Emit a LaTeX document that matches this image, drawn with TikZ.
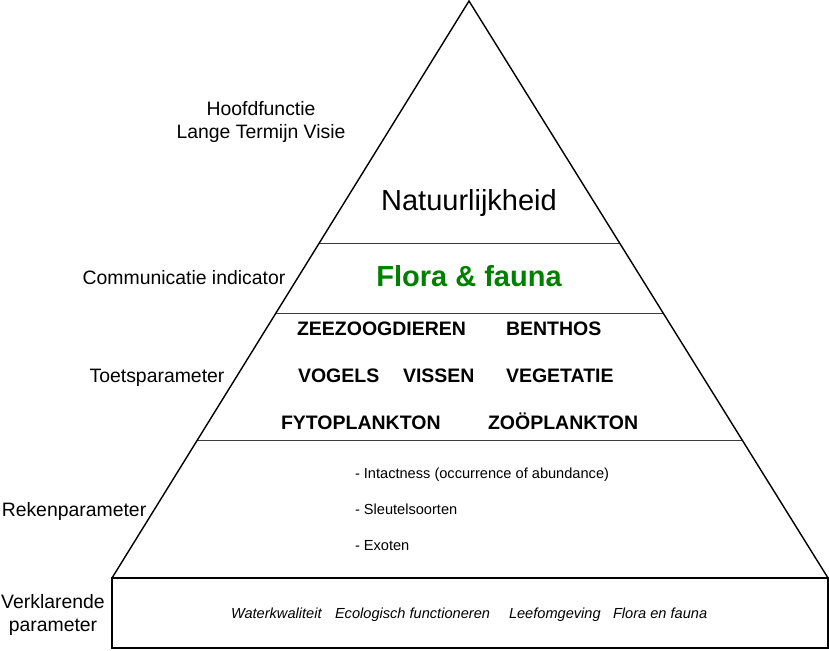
\documentclass[tikz,border=0pt]{standalone}
\usepackage{fontspec}
\setmainfont{Liberation Sans}
\usetikzlibrary{calc}
\definecolor{labgreen}{RGB}{0,128,0}
\definecolor{divgray}{RGB}{60,60,60}
\begin{document}
\begin{tikzpicture}[x=1pt,y=-1pt,
  every node/.style={inner sep=0pt,outer sep=0pt},
  outline/.style={line width=1.4pt,black},
  divider/.style={line width=1pt,divgray},
  sidelab/.style={font=\fontsize{19.4}{23}\selectfont,anchor=base},
  biglab/.style={font=\fontsize{29}{34}\selectfont,anchor=base},
  caps/.style={font=\fontsize{19.5}{23}\selectfont\bfseries,anchor=base west},
  bullet/.style={font=\fontsize{14.6}{17}\selectfont,anchor=base west},
  ital/.style={font=\fontsize{14.6}{17}\selectfont\itshape,anchor=base west}]
\useasboundingbox (0,0) rectangle (829,650);
\coordinate (apex) at (469,1);
\coordinate (bl) at (112,578);
\coordinate (br) at (828,578);
\coordinate (boxbr) at (828,648);
% dividers
\coordinate (d1l) at ($(apex)!0.4204!(bl)$);
\coordinate (d1r) at ($(apex)!0.4204!(br)$);
\coordinate (d2l) at ($(apex)!0.5415!(bl)$);
\coordinate (d2r) at ($(apex)!0.5415!(br)$);
\coordinate (d3l) at ($(apex)!0.7612!(bl)$);
\coordinate (d3r) at ($(apex)!0.7612!(br)$);
\draw[divider] (d1l) -- (d1r);
\draw[divider] (d2l) -- (d2r);
\draw[divider] (d3l) -- (d3r);
\draw[outline,line join=miter] (bl) -- (apex) -- (br);
\draw[outline] (bl) rectangle (boxbr);
% left labels
\node[sidelab] (hf) at (261,115) {Hoofdfunctie};
\node[sidelab] (ltv) at (261,138) {Lange Termijn Visie};
\node[sidelab] (ci) at (184,284) {Communicatie indicator};
\node[sidelab] (tp) at (157,382) {Toetsparameter};
\node[sidelab] (rp) at (74,516) {Rekenparameter};
\node[sidelab] (vk) at (53,608) {Verklarende};
\node[sidelab] (vp) at (53,631) {parameter};
% main levels
\node[biglab] (nat) at (469,210) {Natuurlijkheid};
\node[biglab,font=\fontsize{29}{34}\selectfont\bfseries,text=labgreen] (ff) at (469,286) {Flora \& fauna};
% toetsparameters
\node[caps] (zee) at (297,335) {ZEEZOOGDIEREN};
\node[caps] (ben) at (506,335) {BENTHOS};
\node[caps] (vog) at (298,382) {VOGELS};
\node[caps] (vis) at (403,382) {VISSEN};
\node[caps] (veg) at (506,382) {VEGETATIE};
\node[caps] (fyt) at (281,429) {FYTOPLANKTON};
\node[caps] (zoo) at (488,429) {ZOÖPLANKTON};
% rekenparameters
\node[bullet] (b1) at (355,478) {- Intactness (occurrence of abundance)};
\node[bullet] (b2) at (355,514) {- Sleutelsoorten};
\node[bullet] (b3) at (355,550) {- Exoten};
% verklarende parameters
\node[ital] (wk) at (231,618) {Waterkwaliteit};
\node[ital] (ef) at (335,618) {Ecologisch functioneren};
\node[ital] (lo) at (509,618) {Leefomgeving};
\node[ital] (fe) at (613,618) {Flora en fauna};
\end{tikzpicture}
\end{document}
